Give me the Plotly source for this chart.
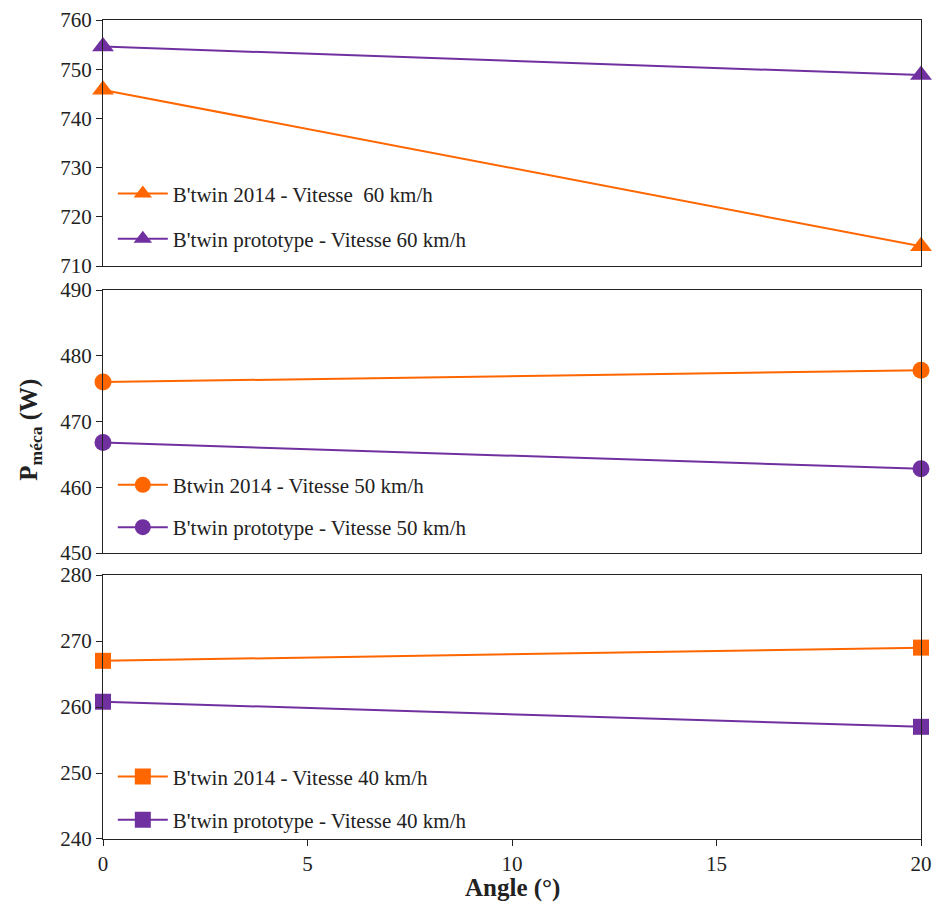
import plotly.graph_objects as go
from plotly.subplots import make_subplots

angles = [0, 20]

p60_2014 = [745.8, 714.0]
p60_proto = [754.6, 748.8]
p50_2014 = [476.0, 477.8]
p50_proto = [466.8, 462.8]
p40_2014 = [267.0, 269.0]
p40_proto = [260.8, 257.0]

names = [
    "B'twin 2014 - Vitesse  60 km/h", "B'twin prototype - Vitesse 60 km/h",
    "Btwin 2014 - Vitesse 50 km/h", "B'twin prototype - Vitesse 50 km/h",
    "B'twin 2014 - Vitesse 40 km/h", "B'twin prototype - Vitesse 40 km/h",
]

ORANGE = "#FF6600"
PURPLE = "#7030A0"
FONT = "Liberation Serif, Times New Roman, serif"

fig = make_subplots(rows=3, cols=1, shared_xaxes=False)

series = [
    (p60_2014, ORANGE, "triangle-up", 1, "legend", 19),
    (p60_proto, PURPLE, "triangle-up", 1, "legend", 19),
    (p50_2014, ORANGE, "circle", 2, "legend2", 17),
    (p50_proto, PURPLE, "circle", 2, "legend2", 17),
    (p40_2014, ORANGE, "square", 3, "legend3", 16),
    (p40_proto, PURPLE, "square", 3, "legend3", 16),
]
for i, (vals, col, sym, row, leg, ms) in enumerate(series):
    fig.add_trace(go.Scatter(
        x=angles, y=vals, mode="lines+markers", name=names[i],
        line=dict(color=col, width=2),
        marker=dict(symbol=sym, size=ms, color=col),
        legend=leg, legendgroup=f"g{i}", cliponaxis=False,
    ), row=row, col=1)

axis_common = dict(showline=True, linecolor="#222", linewidth=1.3, mirror=True,
                   showgrid=False, zeroline=False, ticklen=6, automargin=False,
                   ticklabeloverflow="allow",
                   tickcolor="#222", tickfont=dict(family=FONT, size=21, color="#222"))

# page body has an 8px margin, so the figure is sized/offset to compensate
fig.update_layout(
    width=932, height=897,
    margin=dict(l=95, r=19, t=12, b=66),
    plot_bgcolor="white", paper_bgcolor="white",
    font=dict(family=FONT, size=20, color="#222"),
    yaxis=dict(domain=[0.6996, 1.0], range=[710, 760], dtick=10, ticks="outside", **axis_common),
    yaxis2=dict(domain=[0.3492, 0.6703], range=[450, 490], dtick=10, ticks="outside", **axis_common),
    yaxis3=dict(domain=[0.0, 0.3223], range=[240, 280], dtick=10, ticks="outside", **axis_common),
    xaxis=dict(range=[0, 20], showticklabels=False, ticks="", **axis_common),
    xaxis2=dict(range=[0, 20], showticklabels=False, ticks="", **axis_common),
    xaxis3=dict(range=[0, 20], dtick=5, ticks="outside", **axis_common),
    showlegend=True,
)

leg_common = dict(bgcolor="rgba(0,0,0,0)", borderwidth=0, traceorder="grouped",
                  font=dict(family=FONT, size=21, color="#222"), itemwidth=50,
                  xanchor="left", yanchor="top", x=0.012)
fig.update_layout(
    legend=dict(y=0.8128, tracegroupgap=15, **leg_common),
    legend2=dict(y=0.457, tracegroupgap=12, **leg_common),
    legend3=dict(y=0.101, tracegroupgap=13, **leg_common),
)

fig.add_annotation(
    text="<b>P<sub>méca</sub> (W)</b>", xref="paper", yref="paper",
    x=-0.089, y=0.5, textangle=-90, showarrow=False,
    font=dict(family=FONT, size=25, color="#222"), xanchor="center", yanchor="middle",
)
fig.add_annotation(
    text="<b>Angle (°)</b>", xref="paper", yref="paper",
    x=0.5, y=-0.0598, showarrow=False,
    font=dict(family=FONT, size=25, color="#222"), xanchor="center", yanchor="middle",
)

fig.write_html("out.html")
